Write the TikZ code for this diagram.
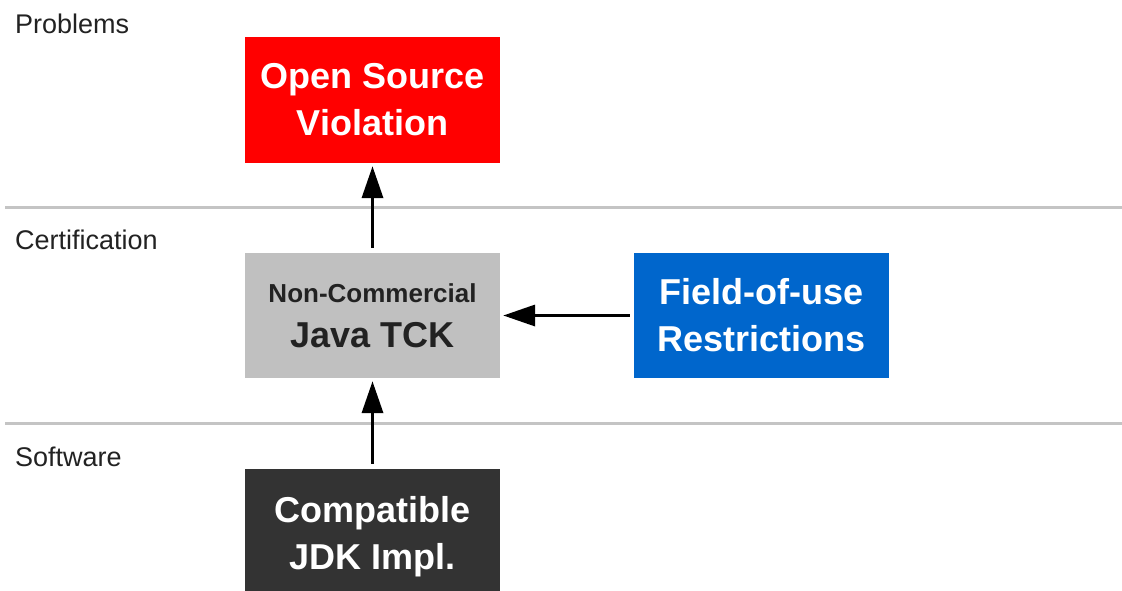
\documentclass[tikz,border=0pt]{standalone}
\usepackage{fontspec}
\setmainfont{Liberation Sans}
\usetikzlibrary{arrows.meta}
\definecolor{boxred}{HTML}{FF0000}
\definecolor{boxgray}{HTML}{C0C0C0}
\definecolor{boxblue}{HTML}{0066CC}
\definecolor{boxdark}{HTML}{333333}
\definecolor{lanegray}{HTML}{C4C4C4}
\definecolor{labeltext}{HTML}{222222}
\begin{document}
\begin{tikzpicture}[x=1pt,y=-1pt,
  lane/.style={draw=lanegray,line width=3.5pt},
  lanelabel/.style={anchor=base west,inner sep=0pt,text=labeltext,font=\fontsize{27}{30}\selectfont},
  box/.style={rectangle,minimum width=255pt,minimum height=125pt,inner sep=0pt,align=center,
    font=\fontsize{36}{47}\selectfont\bfseries,text=white},
  arr/.style={line width=3.5pt,-{Triangle[length=32pt,width=21pt]}}]
\useasboundingbox[fill=white] (0,0) rectangle (1122,590);
% lane separators
\coordinate (l1a) at (5,207.5);
\coordinate (l1b) at (1122,207.5);
\coordinate (l2a) at (5,423.5);
\coordinate (l2b) at (1122,423.5);
\draw[lane] (l1a) -- (l1b);
\draw[lane] (l2a) -- (l2b);
% lane labels
\node[lanelabel] (lp) at (15,33) {Problems};
\node[lanelabel] (lc) at (15,249) {Certification};
\node[lanelabel] (ls) at (15,466) {Software};
% boxes
\node[box,fill=boxred,minimum height=126pt] (osv) at (372.5,100) {Open Source\\Violation};
\node[box,fill=boxgray,text=labeltext] (tck) at (372.5,315.5)
  {{\fontsize{26}{30}\selectfont Non-Commercial}\\[-2pt]Java TCK};
\node[box,fill=boxblue] (fou) at (761.5,315.5) {Field-of-use\\Restrictions};
\node[box,fill=boxdark,minimum height=135pt] (jdk) at (372.5,536.5) {Compatible\\JDK Impl.};
% connectors
\draw[arr,shorten <=5pt,shorten >=3pt] (tck.north) -- (osv.south);
\draw[arr,shorten <=5pt,shorten >=3pt] (jdk.north) -- (tck.south);
\draw[arr,shorten <=4pt,shorten >=3pt] (fou.west) -- (tck.east);
\end{tikzpicture}
\end{document}
